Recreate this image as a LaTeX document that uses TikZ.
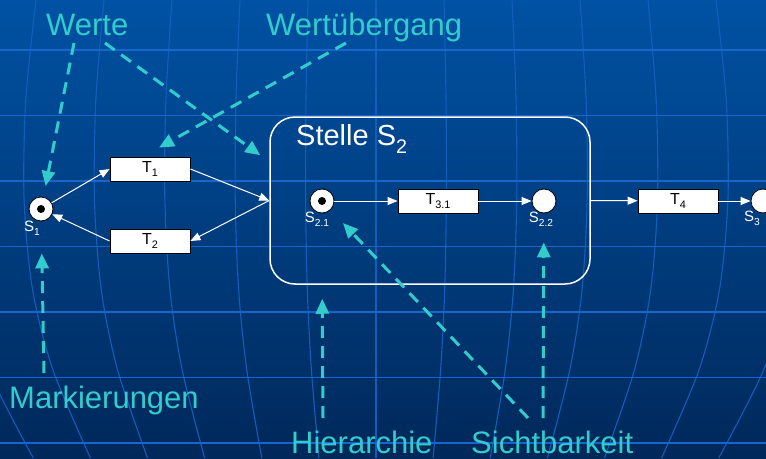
\documentclass[tikz,border=0pt]{standalone}
\usepackage{fontspec}
\setmainfont{Liberation Sans}
\usetikzlibrary{arrows.meta,positioning}
\definecolor{himmeloben}{RGB}{0,82,164}
\definecolor{himmelunten}{RGB}{0,40,90}
\definecolor{netzblau}{RGB}{22,102,206}
\definecolor{tuerkis}{RGB}{51,204,204}
\tikzset{>={Triangle[width=8pt,length=10pt]}}
\newcommand\tief[1]{\raisebox{-0.28em}{\fontsize{0.68em}{0.8em}\selectfont #1}}
\tikzset{
  netz/.style={netzblau,line width=1.8pt},
  meridian/.style={netzblau!85!himmelunten,line width=1.1pt},
  place/.style={circle,draw=black,fill=white,line width=0.8pt,minimum size=24pt,inner sep=0pt},
  marke/.style={circle,fill=black,minimum size=8pt,inner sep=0pt},
  transition/.style={draw=black,fill=white,line width=0.8pt,minimum width=80pt,minimum height=24pt,inner sep=0pt,font=\fontsize{16}{18}\selectfont},
  stellename/.style={text=white,inner sep=0pt,font=\fontsize{15}{17}\selectfont},
  hinweis/.style={text=tuerkis,inner sep=0pt,anchor=base west,font=\fontsize{31}{36}\selectfont},
  fluss/.style={->,white,line width=1pt},
  zeiger/.style={-{Triangle[width=13pt,length=15pt]},tuerkis,line width=3pt,dash pattern=on 12pt off 8pt},
}

\begin{document}
\begin{tikzpicture}[x=1pt,y=-1pt]

  \useasboundingbox (0,0) rectangle (766,458);

  %% background with globe grid
  \shade[top color=himmeloben,bottom color=himmelunten] (0,0) rectangle (766,458);
  \foreach \o in {-408,-340,...,408}
    \draw[meridian] plot[smooth] coordinates {({376+\o},0) ({376+1.03*\o},100) ({376+1.035*\o},200)
      ({376+1.01*\o},290) ({376+0.95*\o},370) ({376+0.84*\o},458)};
  \foreach \y in {50,115.5,181,246.5,312,377.5,443}
    \draw[netz] (0,\y) -- (766,\y);

  %% subnet box
  \node[draw=white,line width=1.5pt,rounded corners=25pt,minimum width=320pt,minimum height=167pt] (stelle) at (430,200.5) {};
  \node[text=white,inner sep=0pt,anchor=base west,font=\fontsize{29}{34}\selectfont] (titel) at (296,145) {Stelle S\tief{2}};

  %% places
  \node[place] (s1) at (41,209) {};
  \node[marke] (m1) at (s1) {};
  \node[place] (s21) at (322,201) {};
  \node[marke] (m21) at (s21) {};
  \node[place] (s22) at (544,201) {};
  \node[place] (s3) at (763,201) {};

  \node[stellename] (ls1) at (32,228) {S\tief{1}};
  \node[stellename] (ls21) at (317,219) {S\tief{2.1}};
  \node[stellename] (ls22) at (541,219) {S\tief{2.2}};
  \node[stellename] (ls3) at (752,218) {S\tief{3}};

  %% transitions
  \node[transition] (t1) at (150,169) {T\tief{1}};
  \node[transition] (t2) at (150,241) {T\tief{2}};
  \node[transition] (t31) at (438,201) {T\tief{3.1}};
  \node[transition] (t4) at (678,201) {T\tief{4}};

  \draw[fluss] (s1) -- (t1.west);
  \draw[fluss] (t1.east) -- (stelle.west);
  \draw[fluss] (stelle.west) -- (t2.east);
  \draw[fluss] (t2.west) -- (s1);
  \draw[fluss] (s21) -- (t31);
  \draw[fluss] (t31) -- (s22);
  \draw[fluss] (stelle.east) -- (t4);
  \draw[fluss] (t4) -- (s3);

  %% annotations
  \node[hinweis] (werte) at (46,35) {Werte};
  \node[hinweis] (wertuebergang) at (266,35) {Wertübergang};
  \node[hinweis] (markierungen) at (9,408) {Markierungen};
  \node[hinweis] (hierarchie) at (291,453) {Hierarchie};
  \node[hinweis] (sichtbarkeit) at (471,453) {Sichtbarkeit};

  \draw[zeiger,shorten >=11pt] ([shift={(28,8)}]werte.base west) -- (s1);
  \draw[zeiger] ([shift={(59,8)}]werte.base west) -- ([shift={(-9,39)}]stelle.north west);
  \draw[zeiger] ([shift={(80,8)}]wertuebergang.base west) -- ([shift={(9,-9)}]t1.north);
  \draw[zeiger,shorten >=32pt] ([shift={(35,-35)}]markierungen.base west) -- (s1);
  \draw[zeiger] ([shift={(32,-35)}]hierarchie.base west) -- ([shift={(53,14)}]stelle.south west);
  \draw[zeiger,shorten >=29pt] ([shift={(72,-35)}]sichtbarkeit.base west) -- (s22);
  \draw[zeiger,shorten >=18pt] ([shift={(57,-35)}]sichtbarkeit.base west) -- (s21);

\end{tikzpicture}
\end{document}
